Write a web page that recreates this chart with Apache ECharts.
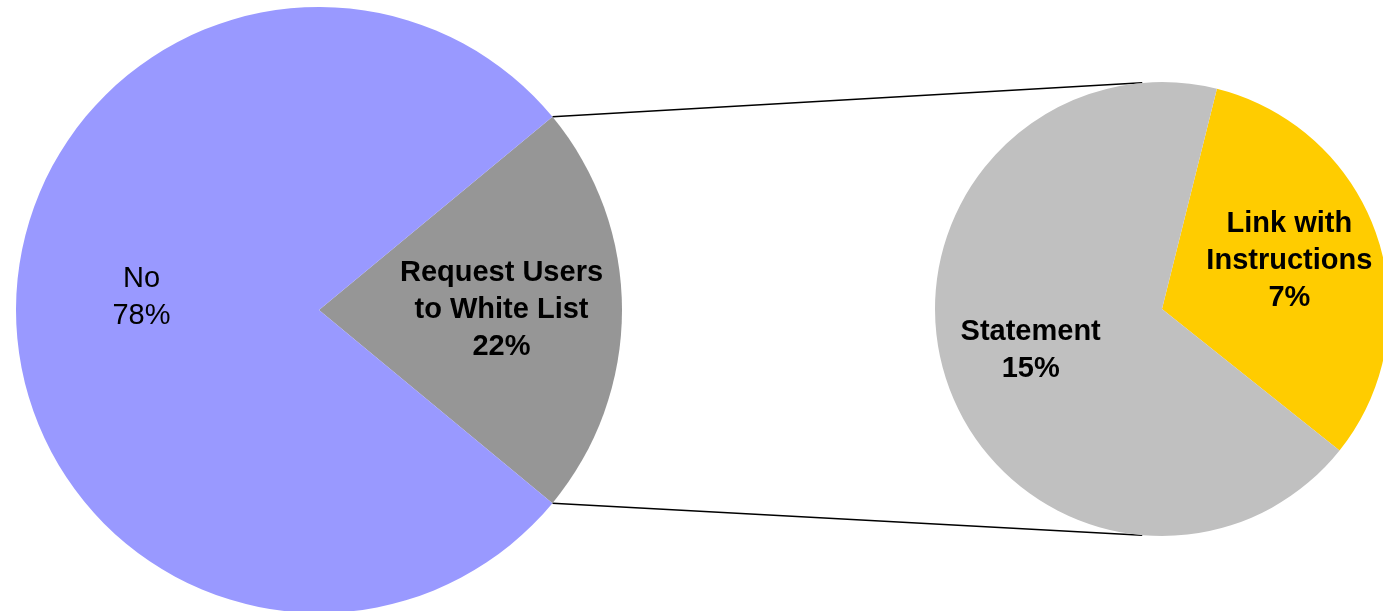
<!DOCTYPE html>
<html>
<head>
<meta charset="utf-8">
<script src="https://cdn.jsdelivr.net/npm/echarts@6/dist/echarts.min.js"></script>
<style>
html,body{margin:0;padding:0;background:#fff;}
#chart{width:1383px;height:611px;}
</style>
</head>
<body>
<div id="chart"></div>
<script>
// ---- data ----
const bigNames = ['Request Users\nto White List', 'No'];
const bigValues = [22, 78];
const smallNames = ['Link with\nInstructions', 'Statement'];
const smallValues = [7, 15];

// ---- layout / style ----
const bigCenter = [319, 310], bigR = 303;
const smallCenter = [1162, 309], smallR = 227;
const bigColors = ['#969696', '#9999FF'];
const smallColors = ['#FFCC00', '#C0C0C0'];
const bigLabelOffsets = [[28, 0], [-23, -13]];
const bigLabelWeights = ['bold', 'normal'];
const smallLabelOffsets = [[17, -11], [-21, 4]];
const FONT = '"Liberation Sans", Arial, sans-serif';

const bigTotal = bigValues.reduce((a, b) => a + b, 0);
const splitShare = bigValues[0] / bigTotal;          // share broken out into second pie
const bigStart = splitShare * 360 / 2;                // centre that slice on the right

function buildData(names, values, colors, offsets, weights) {
  return names.map((n, i) => ({
    name: n,
    value: values[i],
    itemStyle: { color: colors[i] },
    label: { offset: offsets[i], fontWeight: weights ? weights[i] : 'bold' }
  }));
}

const labelBase = {
  show: true,
  position: 'inside',
  formatter: p => p.name + '\n' + p.value + '%',
  color: '#000',
  fontFamily: FONT,
  fontSize: 29,
  lineHeight: 37,
  align: 'center'
};

// connector endpoints derived from the pie geometry
const rad = d => d * Math.PI / 180;
const bigTop = [bigCenter[0] + bigR * Math.cos(rad(bigStart)), bigCenter[1] - bigR * Math.sin(rad(bigStart))];
const bigBot = [bigCenter[0] + bigR * Math.cos(rad(bigStart)), bigCenter[1] + bigR * Math.sin(rad(bigStart))];
const smallTop = [smallCenter[0] + smallR * Math.cos(rad(95)), smallCenter[1] - smallR * Math.sin(rad(95))];
const smallBot = [smallCenter[0] + smallR * Math.cos(rad(95)), smallCenter[1] + smallR * Math.sin(rad(95))];

const chart = echarts.init(document.getElementById('chart'), null, { renderer: 'canvas' });
chart.setOption({
  animation: false,
  backgroundColor: '#fff',
  series: [
    {
      type: 'pie',
      center: bigCenter,
      radius: bigR,
      startAngle: bigStart,
      clockwise: true,
      avoidLabelOverlap: false,
      label: labelBase,
      labelLine: { show: false },
      itemStyle: { borderWidth: 0 },
      emphasis: { disabled: true },
      data: buildData(bigNames, bigValues, bigColors, bigLabelOffsets, bigLabelWeights)
    },
    {
      type: 'pie',
      center: smallCenter,
      radius: smallR,
      startAngle: 76,
      clockwise: true,
      avoidLabelOverlap: false,
      label: labelBase,
      labelLine: { show: false },
      itemStyle: { borderWidth: 0 },
      emphasis: { disabled: true },
      data: buildData(smallNames, smallValues, smallColors, smallLabelOffsets)
    }
  ],
  graphic: [
    { type: 'line', shape: { x1: bigTop[0], y1: bigTop[1], x2: smallTop[0], y2: smallTop[1] }, style: { stroke: '#000', lineWidth: 1.5 } },
    { type: 'line', shape: { x1: bigBot[0], y1: bigBot[1], x2: smallBot[0], y2: smallBot[1] }, style: { stroke: '#000', lineWidth: 1.5 } }
  ]
});
</script>
</body>
</html>
